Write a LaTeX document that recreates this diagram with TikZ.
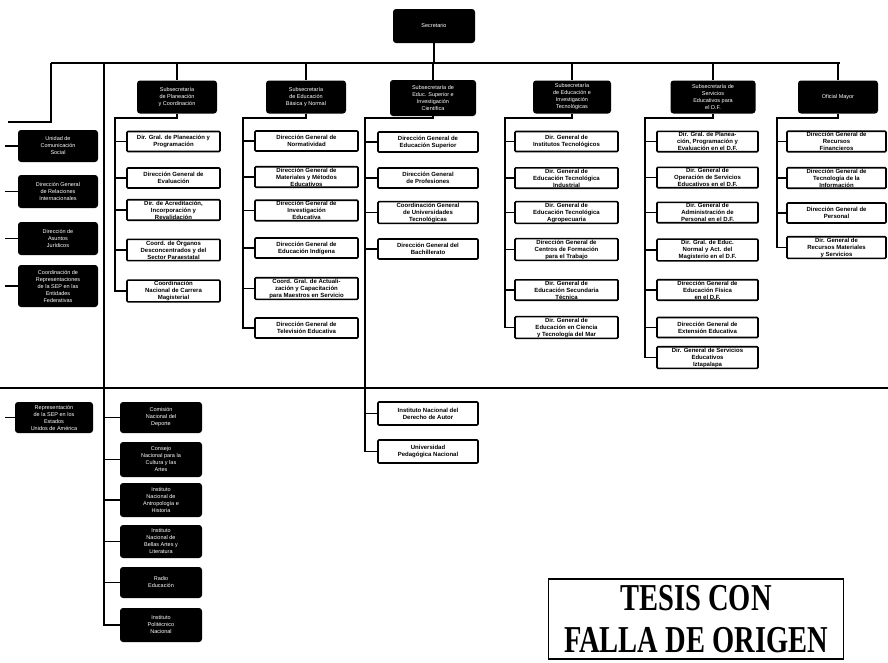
\documentclass[tikz,border=0pt]{standalone}
\usepackage{fontspec}
\setmainfont{Liberation Sans}
\newfontfamily\stampfont{Liberation Serif}
\usetikzlibrary{calc}
\tikzstyle{line} = [
    line width=1.2pt,
    draw=black
]

\begin{document}
\begin{tikzpicture}[
    x=1pt, y=-1pt,
    head/.style={
        fill=black,
        text=white,
        rounded corners=3pt,
        font=\fontsize{5.5}{7}\selectfont,
        align=center,
        inner sep=1pt,
        minimum width=80pt,
        minimum height=33pt
    },
    unit/.style={
        draw,
        line width=1.6pt,
        fill=white,
        rounded corners=1pt,
        font=\fontsize{6}{7}\selectfont\bfseries,
        align=center,
        inner sep=1pt,
        minimum height=20pt
    },
    stamp/.style={
        draw,
        line width=1.3pt,
        font=\stampfont\bfseries\fontsize{38}{42}\selectfont,
        align=center,
        inner sep=0pt,
        minimum width=295pt,
        minimum height=80pt
    }
]
\useasboundingbox (0,0) rectangle (888,662);

% Nodes
\node[head, minimum width=82pt, minimum height=34pt] (sec) at (434,26) {Secretario};

\node[head] (s1) at (177,97) {Subsecretaría\\de Planeación\\y Coordinación};
\node[head] (s2) at (306,97) {Subsecretaría\\de Educación\\Básica y Normal};
\node[head, minimum width=86pt, minimum height=36pt] (s3) at (433,98) {Subsecretaría de\\Educ. Superior e\\Investigación\\Científica};
\node[head, minimum width=78pt] (s4) at (572,97) {Subsecretaría\\de Educación e\\Investigación\\Tecnológicas};
\node[head, minimum width=85pt] (s5) at (713,97) {Subsecretaría de\\Servicios\\Educativos para\\el D.F.};
\node[head] (om) at (838,97) {Oficial Mayor};

% staff units
\node[head, minimum height=32pt] (st1) at (58,146) {Unidad de\\Comunicación\\Social};
\node[head] (st2) at (58,191.5) {Dirección General\\de Relaciones\\Internacionales};
\node[head] (st3) at (58,238.5) {Dirección de\\Asuntos\\Jurídicos};
\node[head, minimum height=42pt] (st4) at (58,286) {Coordinación de\\Representaciones\\de la SEP en las\\Entidades\\Federativas};
\node[head, minimum width=78pt, minimum height=31pt] (rep) at (54,417.5) {Representación\\de la SEP en los\\Estados\\Unidos de América};

% sector entities
\node[head, minimum width=82pt, minimum height=31pt] (e1) at (161,417.5) {Comisión\\Nacional del\\Deporte};
\node[head, minimum width=82pt, minimum height=35pt] (e2) at (161,459.5) {Consejo\\Nacional para la\\Cultura y las\\Artes};
\node[head, minimum width=82pt, minimum height=34pt] (e3) at (161,500) {Instituto\\Nacional de\\Antropología e\\Historia};
\node[head, minimum width=82pt, minimum height=33pt] (e4) at (161,541.5) {Instituto\\Nacional de\\Bellas Artes y\\Literatura};
\node[head, minimum width=82pt, minimum height=31pt] (e5) at (161,582.5) {Radio\\Educación};
\node[head, minimum width=82pt, minimum height=34pt] (e6) at (161,625) {Instituto\\Politécnico\\Nacional};

% Planeacion y Coordinacion
\begin{scope}[every node/.append style={minimum width=93pt}]
\node[unit] (c11) at (173.5,141.5) {Dir. Gral. de Planeación y\\Programación};
\node[unit] (c12) at (173.5,178) {Dirección General de\\Evaluación};
\node[unit] (c13) at (173.5,210) {Dir. de Acreditación,\\Incorporación y\\Revalidación};
\node[unit] (c14) at (173.5,250) {Coord. de Órganos\\Desconcentrados y del\\Sector Paraestatal};
\node[unit] (c15) at (173.5,291) {Coordinación\\Nacional de Carrera\\Magisterial};
\end{scope}

% Educacion Basica y Normal
\begin{scope}[every node/.append style={minimum width=103pt}]
\node[unit] (c21) at (306.5,141) {Dirección General de\\Normatividad};
\node[unit] (c22) at (306.5,177) {Dirección General de\\Materiales y Métodos\\Educativos};
\node[unit] (c23) at (306.5,210.5) {Dirección General de\\Investigación\\Educativa};
\node[unit] (c24) at (306.5,248) {Dirección General de\\Educación Indígena};
\node[unit] (c25) at (306.5,288.5) {Coord. Gral. de Actuali-\\zación y Capacitación\\para Maestros en Servicio};
\node[unit] (c26) at (306.5,328) {Dirección General de\\Televisión Educativa};
\end{scope}

% Educacion Superior
\begin{scope}[every node/.append style={minimum width=100pt}]
\node[unit] (c31) at (428,142) {Dirección General de\\Educación Superior};
\node[unit] (c32) at (428,178) {Dirección General\\de Profesiones};
\node[unit] (c33) at (428,212.5) {Coordinación General\\de Universidades\\Tecnológicas};
\node[unit] (c34) at (428,249) {Dirección General del\\Bachillerato};
\node[unit, minimum height=23pt] (c35) at (428,413.5) {Instituto Nacional del\\Derecho de Autor};
\node[unit, minimum height=23pt] (c36) at (428,451.5) {Universidad\\Pedagógica Nacional};
\end{scope}

% Educacion Tecnologica
\begin{scope}[every node/.append style={minimum width=103pt}]
\node[unit] (c41) at (566.5,141.5) {Dir. General de\\Institutos Tecnológicos};
\node[unit] (c42) at (566.5,178) {Dir. General de\\Educación Tecnológica\\Industrial};
\node[unit] (c43) at (566.5,212.5) {Dir. General de\\Educación Tecnológica\\Agropecuaria};
\node[unit] (c44) at (566.5,249.5) {Dirección General de\\Centros de Formación\\para el Trabajo};
\node[unit] (c45) at (566.5,290) {Dir. General de\\Educación Secundaria\\Técnica};
\node[unit] (c46) at (566.5,327.5) {Dir. General de\\Educación en Ciencia\\y Tecnología del Mar};
\end{scope}

% Servicios Educativos D.F.
\begin{scope}[every node/.append style={minimum width=101pt}]
\node[unit] (c51) at (707.5,141.5) {Dir. Gral. de Planea-\\ción, Programación y\\Evaluación en el D.F.};
\node[unit] (c52) at (707.5,177.5) {Dir. General de\\Operación de Servicios\\Educativos en el D.F.};
\node[unit] (c53) at (707.5,212.5) {Dir. General de\\Administración de\\Personal en el D.F.};
\node[unit] (c54) at (707.5,250) {Dir. Gral. de Educ.\\Normal y Act. del\\Magisterio en el D.F.};
\node[unit] (c55) at (707.5,290) {Dirección General de\\Educación Física\\en el D.F.};
\node[unit] (c56) at (707.5,327.5) {Dirección General de\\Extensión Educativa};
\node[unit] (c57) at (707.5,357.5) {Dir. General de Servicios\\Educativos\\Iztapalapa};
\end{scope}

% Oficialia Mayor
\begin{scope}[every node/.append style={minimum width=99pt}]
\node[unit] (c61) at (836.5,141.5) {Dirección General de\\Recursos\\Financieros};
\node[unit] (c62) at (836.5,178) {Dirección General de\\Tecnología de la\\Información};
\node[unit] (c63) at (836.5,213) {Dirección General de\\Personal};
\node[unit] (c64) at (836.5,247.5) {Dir. General de\\Recursos Materiales\\y Servicios};
\end{scope}

\node[stamp] (tesis) at (696,619) {\scalebox{0.75}[1]{TESIS CON}\\\scalebox{0.75}[1]{FALLA DE ORIGEN}};

% Lines
\coordinate (busL) at (51,63);
\coordinate (busR) at (840,63);
\coordinate (stL) at (8,122);
\coordinate (edge) at (5,0);
\coordinate (trunk) at (104,63);
\coordinate (divL) at (0,388);
\coordinate (divR) at (888,388);

\draw[line] (busL) -- (busR);
\draw[line] (divL) -- (divR);
\draw[line] (sec.south) -- (sec.south |- busL);
\foreach \s in {s1,s2,s3,s4,s5,om} {
    \draw[line] (\s.north |- busL) -- (\s.north);
}
\draw[line] (busL) |- (stL);
\foreach \n in {st1,st2,st3,st4,rep} {
    \draw[line] (\n.west -| edge) -- (\n.west);
}
\draw[line] (trunk) |- (e6.west);
\foreach \n in {e1,e2,e3,e4,e5} {
    \draw[line] (trunk |- \n.west) -- (\n.west);
}

\coordinate (t1) at (115,118);
\coordinate (t2) at (243,118);
\coordinate (t3) at (365,118);
\coordinate (t4) at (505,118);
\coordinate (t5) at (645,118);
\coordinate (t6) at (777,118);
\draw[line] (s1.south) |- (t1) |- (c15.west);
\draw[line] (s2.south) |- (t2) |- (c26.west);
\draw[line] (s3.south) |- (t3) |- (c36.west);
\draw[line] (s4.south) |- (t4) |- (c46.west);
\draw[line] (s5.south) |- (t5) |- (c57.west);
\draw[line] (om.south) |- (t6) |- (c64.west);
\foreach \from/\to in {t1/c11, t1/c12, t1/c13, t1/c14,
                       t2/c21, t2/c22, t2/c23, t2/c24, t2/c25,
                       t3/c31, t3/c32, t3/c33, t3/c34, t3/c35,
                       t4/c41, t4/c42, t4/c43, t4/c44, t4/c45,
                       t5/c51, t5/c52, t5/c53, t5/c54, t5/c55, t5/c56,
                       t6/c61, t6/c62, t6/c63} {
    \draw[line] (\from |- \to.west) -- (\to.west);
}
\end{tikzpicture}
\end{document}
